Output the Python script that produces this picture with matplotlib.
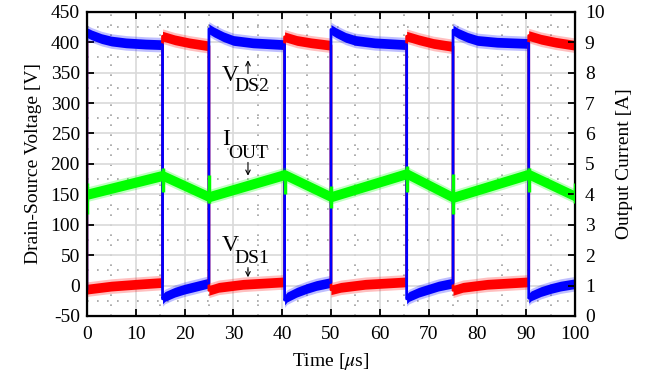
import matplotlib.pyplot as plt
import numpy as np

plt.rcParams['font.family'] = 'Liberation Serif'
plt.rcParams['mathtext.fontset'] = 'stix'
plt.rcParams['axes.unicode_minus'] = False

# V_DS2 (blue) [us, V]
vds2_t = [0, 0, 1, 3, 5, 8, 12, 15.5,
          15.5, 16, 18, 20, 22, 25,
          25, 26, 28, 30, 34, 40.5,
          40.5, 41, 43, 45, 47, 50,
          50, 51, 53, 55, 59, 65.5,
          65.5, 66, 68, 70, 72, 75,
          75, 76, 78, 80, 84, 90.5,
          90.5, 91, 93, 95, 97, 100]
vds2_v = [-5, 416, 412, 406, 402, 399, 397, 396,
          -22, -18, -11, -6, -2, 4,
          422, 417, 409, 403, 399, 396,
          -24, -19, -11, -5, 0, 5,
          421, 416, 408, 403, 399, 396,
          -22, -18, -11, -6, -1, 4,
          420, 415, 408, 403, 400, 398,
          -21, -17, -10, -5, -1, 3]

# V_DS1 (red)
vds1_t = [0, 0, 5, 10, 15.5,
          15.5, 18, 21, 25,
          25, 27, 32, 40.5,
          40.5, 43, 46, 50,
          50, 52, 57, 65.5,
          65.5, 68, 71, 75,
          75, 77, 82, 90.5,
          90.5, 93, 96, 100]
vds1_v = [400, -6, -1, 2, 5,
          410, 404, 399, 394,
          -8, -3, 2, 6,
          409, 403, 399, 395,
          -7, -3, 2, 6,
          410, 404, 398, 393,
          -8, -3, 2, 6,
          411, 405, 400, 395]

# I_OUT (green) [us, A]
iout_t = [0, 15.5, 25, 40.5, 50, 65.5, 75, 90.5, 100]
iout_a = [4.0, 4.62, 3.92, 4.65, 3.92, 4.68, 3.9, 4.66, 3.94]
spike_hi = [4.36, 4.88, 4.62, 4.78, 4.28, 4.94, 4.68, 4.88, 4.38]
spike_lo = [3.36, 4.06, 3.70, 4.02, 3.54, 4.06, 3.36, 4.06, 3.72]

fig = plt.figure(figsize=(6.58, 3.82), dpi=100)
ax = fig.add_axes([0.132, 0.173, 0.742, 0.796])
ax2 = ax.twinx()

# noisy traces: thin line for the edges plus a band for the noise
for t, v, c in [(vds1_t, vds1_v, '#ff0000'), (vds2_t, vds2_v, '#0000ff')]:
    t = np.array(t)
    v = np.array(v)
    ax.fill_between(t, v - 12, v + 12, color=c, alpha=0.25, lw=0)
    ax.fill_between(t, v - 8, v + 8, color=c, lw=0)
    ax.plot(t, v, color=c, lw=2)

t = np.array(iout_t)
a = np.array(iout_a)
ax2.fill_between(t, a - 0.24, a + 0.24, color='#00ff00', alpha=0.25, lw=0)
ax2.fill_between(t, a - 0.17, a + 0.17, color='#00ff00', lw=0)
ax2.vlines(iout_t, spike_lo, spike_hi, color='#00ff00', lw=2.5)

ax.set_xlim(0, 100)
ax.set_ylim(-50, 450)
ax2.set_ylim(0, 10)
ax.set_xticks(np.arange(0, 101, 10))
ax.set_yticks(np.arange(-50, 451, 50))
ax2.set_yticks(np.arange(0, 11, 1))
ax.set_xticks(np.arange(5, 100, 10), minor=True)
ax.set_yticks(np.arange(-25, 450, 50), minor=True)

ax.grid(True, which='major', color='#d9d9d9', lw=1.2, ls='-')
ax.grid(True, which='minor', color='#a0a0a0', lw=1.2, ls=(0, (1, 5)))
ax.set_axisbelow(True)

ax.tick_params(which='major', direction='in', top=True, length=5, width=1.3,
               labelsize=14, pad=5)
ax.tick_params(axis='x', pad=7)
ax.tick_params(which='minor', length=0)
ax2.tick_params(direction='in', length=5, width=1.3, labelsize=14, pad=7)
for sp in ax.spines.values():
    sp.set_linewidth(1.6)

ax.set_xlabel('Time [$\\mu$s]', fontsize=14, labelpad=6)
ax.set_ylabel('Drain-Source Voltage [V]', fontsize=14, labelpad=6)
ax2.set_ylabel('Output Current [A]', fontsize=14, labelpad=8)

# trace labels
ax.text(29.3, 346, 'V', fontsize=17, ha='center', va='center')
ax.text(33.8, 327, 'DS2', fontsize=14, ha='center', va='center')
ax.annotate('', xy=(33, 375), xytext=(33, 344),
            arrowprops=dict(arrowstyle='->', lw=0.8, mutation_scale=8))

ax.text(28.5, 240, 'I', fontsize=17, ha='center', va='center')
ax.text(33.0, 217, 'OUT', fontsize=14, ha='center', va='center')
ax.annotate('', xy=(33, 176), xytext=(33, 207),
            arrowprops=dict(arrowstyle='->', lw=0.8, mutation_scale=8))

ax.text(29.3, 66, 'V', fontsize=17, ha='center', va='center')
ax.text(33.8, 44, 'DS1', fontsize=14, ha='center', va='center')
ax.annotate('', xy=(33, 9), xytext=(33, 34),
            arrowprops=dict(arrowstyle='->', lw=0.8, mutation_scale=8))

fig.savefig('out.png', dpi=100)
